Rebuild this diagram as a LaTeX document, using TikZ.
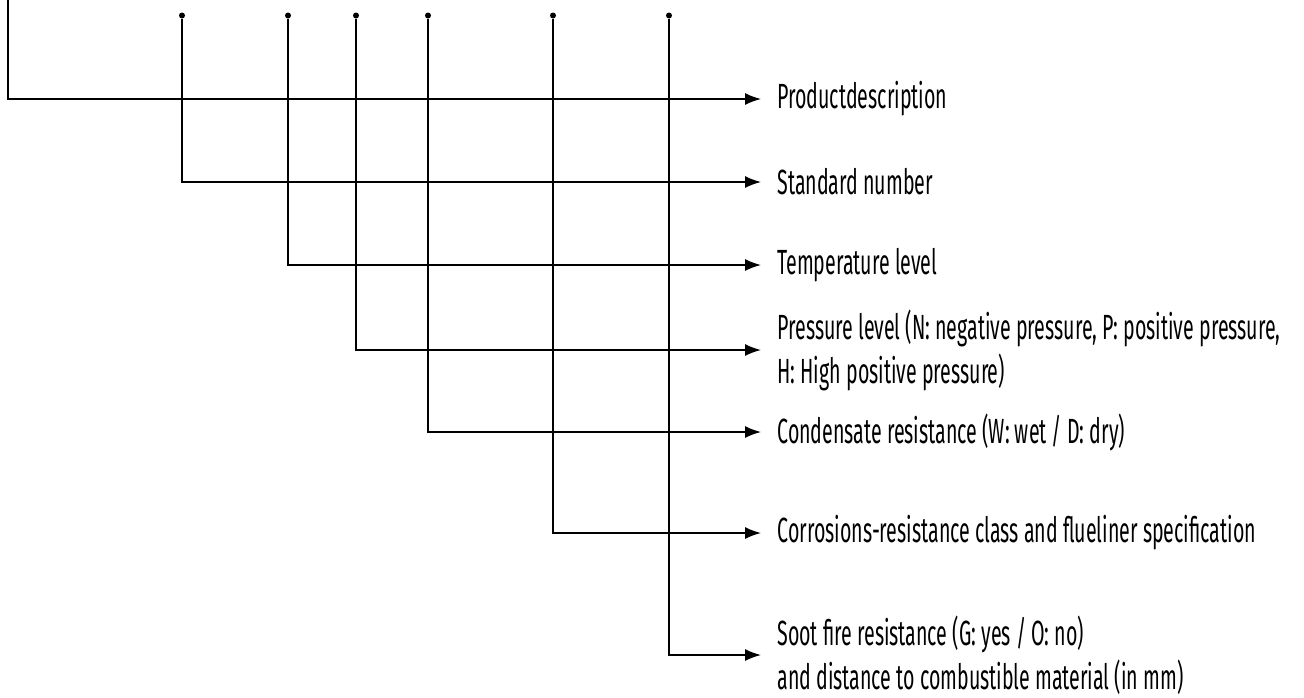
\documentclass[tikz,border=0pt]{standalone}
\usepackage{fontspec}
\newfontfamily\lblfont{Fira Sans}[FakeStretch=0.56]
\usetikzlibrary{arrows.meta}
\tikzset{
  lbl/.style={anchor=west, inner xsep=8pt, inner ysep=0pt, align=left,
    font=\lblfont\fontsize{17.5}{22}\selectfont},
  pin/.style={circle, fill, inner sep=0pt, minimum size=3pt},
  lead/.style={line width=0.75pt, -{Latex[length=8pt,width=6pt]}}
}
\begin{document}
\begin{tikzpicture}[x=0.5pt,y=-0.5pt]
\useasboundingbox (0,0) rectangle (1304,697);
% Punkte oben
\coordinate (top) at (8,0);
\node[pin] (p1) at (182,15.5) {};
\node[pin] (p2) at (288,15.5) {};
\node[pin] (p3) at (356,15.5) {};
\node[pin] (p4) at (428,15.5) {};
\node[pin] (p5) at (553,15.5) {};
\node[pin] (p6) at (669,15.5) {};
% Beschriftungen
\node[lbl] (t0) at (761,99) {Productdescription};
\node[lbl] (t1) at (761,182) {Standard number};
\node[lbl] (t2) at (761,265) {Temperature level};
\node[lbl] (t3) at (761,350) {Pressure level (N: negative pressure, P: positive pressure,\\H: High positive pressure)};
\node[lbl] (t4) at (761,432) {Condensate resistance (W: wet / D: dry)};
\node[lbl] (t5) at (761,533) {Corrosions-resistance class and flueliner specification};
\node[lbl] (t6) at (761,655) {Soot fire resistance (G: yes / O: no)\\and distance to combustible material (in mm)};
% Linien
\draw[lead] (top) |- (t0.west);
\draw[lead] (p1) |- (t1.west);
\draw[lead] (p2) |- (t2.west);
\draw[lead] (p3) |- (t3.west);
\draw[lead] (p4) |- (t4.west);
\draw[lead] (p5) |- (t5.west);
\draw[lead] (p6) |- (t6.west);
\end{tikzpicture}
\end{document}
